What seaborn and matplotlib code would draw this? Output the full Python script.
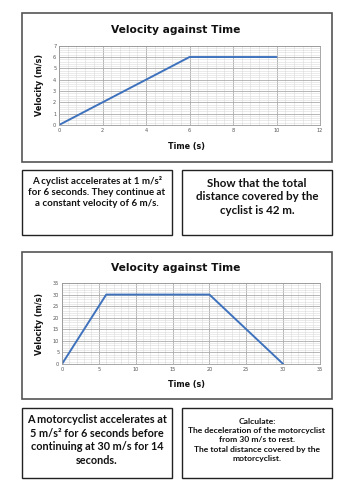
import matplotlib
matplotlib.use("Agg")
import matplotlib.pyplot as plt
import seaborn as sns
import numpy as np
import pandas as pd
from matplotlib.patches import Rectangle
from matplotlib.ticker import MultipleLocator

sns.set_style("white")
plt.rcParams['font.family'] = ['DejaVu Sans']

# Data
time1 = [0, 6, 10]
vel1 = [0, 6, 6]
time2 = [0, 6, 20, 30]
vel2 = [0, 30, 30, 0]
title = "Velocity against Time"
xlabel = "Time (s)"
ylabel = "Velocity (m/s)"
text1 = "A cyclist accelerates at 1 m/s²\nfor 6 seconds. They continue at\na constant velocity of 6 m/s."
text2 = "Show that the total\ndistance covered by the\ncyclist is 42 m."
text3 = "A motorcyclist accelerates at\n5 m/s² for 6 seconds before\ncontinuing at 30 m/s for 14\nseconds."
text4 = "Calculate:\nThe deceleration of the motorcyclist\nfrom 30 m/s to rest.\nThe total distance covered by the\nmotorcyclist."

W, H = 353, 500
fig = plt.figure(figsize=(W / 100, H / 100), dpi=100)
fig.patch.set_facecolor("white")


def fx(px):
    return px / W


def fy(py):
    return 1 - py / H


def box(x0, y0, x1, y1, color="#222222", lw=1.0):
    fig.patches.append(Rectangle((fx(x0), fy(y1)), fx(x1) - fx(x0), fy(y0) - fy(y1),
                                 transform=fig.transFigure, fill=False,
                                 edgecolor=color, linewidth=lw))


line_color = "#3f72bd"


def make_chart(rect_px, t, v, xmax, ymax, xmaj, xmin, ymaj, ymin, title_y, xlab_y, ylab_x):
    x0, y0, x1, y1 = rect_px
    ax = fig.add_axes([fx(x0), fy(y1), fx(x1) - fx(x0), fy(y0) - fy(y1)])
    df = pd.DataFrame({"t": t, "v": v})
    sns.lineplot(data=df, x="t", y="v", ax=ax, color=line_color, linewidth=1.4,
                 sort=False, estimator=None)
    ax.set_xlim(0, xmax)
    ax.set_ylim(0, ymax)
    ax.xaxis.set_major_locator(MultipleLocator(xmaj))
    ax.xaxis.set_minor_locator(MultipleLocator(xmin))
    ax.yaxis.set_major_locator(MultipleLocator(ymaj))
    ax.yaxis.set_minor_locator(MultipleLocator(ymin))
    ax.grid(which="major", color="#aaaaaa", linewidth=0.6)
    ax.grid(which="minor", color="#dadada", linewidth=0.4)
    ax.set_axisbelow(True)
    ax.tick_params(axis="both", which="both", length=0, labelsize=3.6,
                   labelcolor="#555555", pad=2)
    for s in ax.spines.values():
        s.set_color("#999999")
        s.set_linewidth(0.6)
    ax.set_xlabel("")
    ax.set_ylabel("")
    fig.text(fx(176), fy(title_y), title, ha="center", va="center",
             fontsize=7.7, fontweight="bold", color="#111111")
    fig.text(fx(187), fy(xlab_y), xlabel, ha="center", va="center",
             fontsize=5.8, fontweight="bold", color="#111111")
    fig.text(fx(ylab_x), fy((y0 + y1) / 2), ylabel, ha="center", va="center",
             rotation=90, fontsize=5.8, fontweight="bold", color="#111111")
    return ax


# chart 1
box(22, 13, 332, 162, color="#555555", lw=1.2)
make_chart((59, 45.7, 320, 125), time1, vel1, 12, 7, 2, 0.4, 1, 0.2, 30, 146, 39)

# chart 2
box(22, 252, 332, 399, color="#555555", lw=1.2)
make_chart((62, 283, 320, 364), time2, vel2, 35, 35, 5, 1, 5, 1, 268, 385, 39)

# text boxes
tfont = ['Lato', 'DejaVu Sans']
box(22, 170, 172, 235)
box(182, 170, 332, 235)
box(22, 408, 172, 478)
box(182, 408, 332, 478)

fig.text(fx(97), fy(192), text1, ha="center", va="center", fontsize=7.0,
         family=tfont, fontweight="bold", linespacing=1.3, color="#111111")
fig.text(fx(257), fy(197), text2, ha="center", va="center", fontsize=8.3,
         family=tfont, fontweight="bold", linespacing=1.3, color="#111111")
fig.text(fx(97), fy(440), text3, ha="center", va="center", fontsize=7.8,
         family=tfont, fontweight="bold", linespacing=1.3, color="#111111")
fig.text(fx(257), fy(440), text4, ha="center", va="center", fontsize=6.1,
         family=tfont, fontweight="bold", linespacing=1.4, color="#111111")

fig.savefig("out.png", dpi=100, facecolor="white")
